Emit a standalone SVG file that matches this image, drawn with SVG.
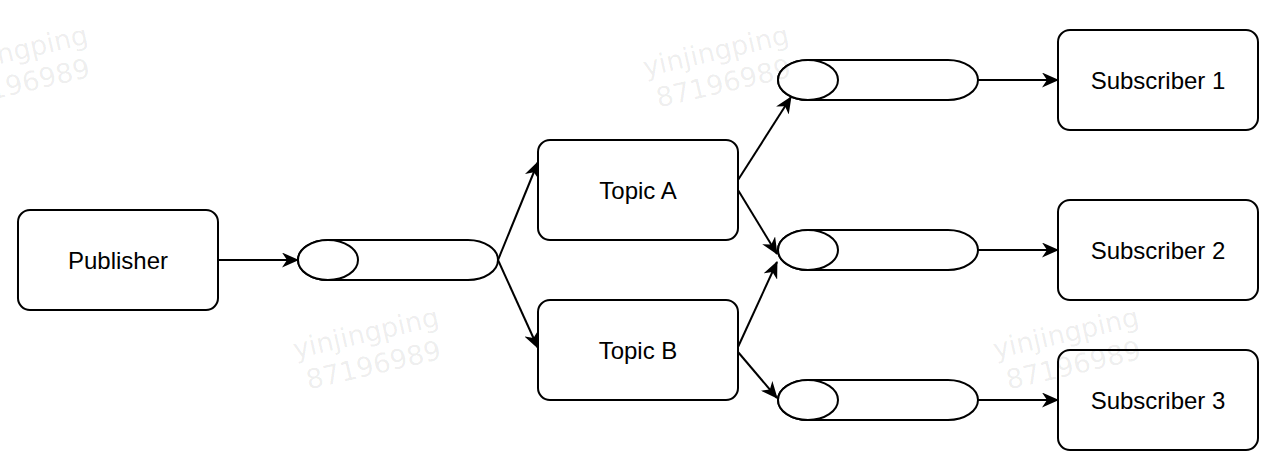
<svg xmlns="http://www.w3.org/2000/svg" width="1279" height="472" viewBox="0 0 1279 472">
<style>
.box{fill:#fff;stroke:#000;stroke-width:2}
.q{fill:#fff;stroke:#000;stroke-width:2}
.lbl{font-family:"Liberation Sans",Arial,sans-serif;font-size:24px;fill:#000;text-anchor:middle;dominant-baseline:central}
.edge{stroke:#000;stroke-width:2;fill:none;marker-end:url(#arr)}
.wm{font-family:"DejaVu Sans",sans-serif;font-size:27px;fill:#000;fill-opacity:0.075;text-anchor:middle}
</style>
<defs>
<marker id="arr" viewBox="0 0 17 15" refX="16" refY="7.5" markerWidth="17" markerHeight="15" markerUnits="userSpaceOnUse" orient="auto">
<path d="M0,0 L17,7.5 L0,15 L5,7.5 Z" fill="#000"/>
</marker>
<g id="wmk">
<text class="wm" x="0" y="0">yinjingping</text>
<text class="wm" x="0" y="33">87196989</text>
</g>
</defs>
<rect width="1279" height="472" fill="#fff"/>
<g id="connectors">
<line class="edge" x1="218" y1="260" x2="298" y2="260"/>
<line class="edge" x1="498" y1="260" x2="538" y2="162"/>
<line class="edge" x1="498" y1="260" x2="538" y2="348"/>
<line class="edge" x1="738" y1="180" x2="791" y2="97"/>
<line class="edge" x1="738" y1="190" x2="777" y2="254"/>
<line class="edge" x1="738" y1="347" x2="777" y2="262"/>
<line class="edge" x1="738" y1="352" x2="777" y2="398"/>
<line class="edge" x1="978" y1="80" x2="1058" y2="80"/>
<line class="edge" x1="978" y1="250" x2="1058" y2="250"/>
<line class="edge" x1="978" y1="400" x2="1058" y2="400"/>
</g>
<g id="publisher">
<rect class="box" x="18" y="210" width="200" height="100" rx="12"/>
<text class="lbl" x="118" y="260">Publisher</text>
</g>
<g id="queue1">
<path class="q" d="M328,240 L468,240 A30,20 0 0 1 468,280 L328,280 A30,20 0 0 1 328,240 Z"/>
<ellipse class="q" cx="328" cy="260" rx="30" ry="20"/>
</g>
<g id="topicA">
<rect class="box" x="538" y="140" width="200" height="100" rx="12"/>
<text class="lbl" x="638" y="190">Topic A</text>
</g>
<g id="topicB">
<rect class="box" x="538" y="300" width="200" height="100" rx="12"/>
<text class="lbl" x="638" y="350">Topic B</text>
</g>
<g id="queue2">
<path class="q" d="M808,60 L948,60 A30,20 0 0 1 948,100 L808,100 A30,20 0 0 1 808,60 Z"/>
<ellipse class="q" cx="808" cy="80" rx="30" ry="20"/>
</g>
<g id="queue3">
<path class="q" d="M808,230 L948,230 A30,20 0 0 1 948,270 L808,270 A30,20 0 0 1 808,230 Z"/>
<ellipse class="q" cx="808" cy="250" rx="30" ry="20"/>
</g>
<g id="queue4">
<path class="q" d="M808,380 L948,380 A30,20 0 0 1 948,420 L808,420 A30,20 0 0 1 808,380 Z"/>
<ellipse class="q" cx="808" cy="400" rx="30" ry="20"/>
</g>
<g id="subscriber1">
<rect class="box" x="1058" y="30" width="200" height="100" rx="12"/>
<text class="lbl" x="1158" y="80">Subscriber 1</text>
</g>
<g id="subscriber2">
<rect class="box" x="1058" y="200" width="200" height="100" rx="12"/>
<text class="lbl" x="1158" y="250">Subscriber 2</text>
</g>
<g id="subscriber3">
<rect class="box" x="1058" y="350" width="200" height="100" rx="12"/>
<text class="lbl" x="1158" y="400">Subscriber 3</text>
</g>
<g id="watermarks">
<use href="#wmk" transform="translate(17,60) rotate(-13)"/>
<use href="#wmk" transform="translate(718,60) rotate(-13)"/>
<use href="#wmk" transform="translate(368,342) rotate(-13)"/>
<use href="#wmk" transform="translate(1068,342) rotate(-13)"/>
</g>
</svg>
